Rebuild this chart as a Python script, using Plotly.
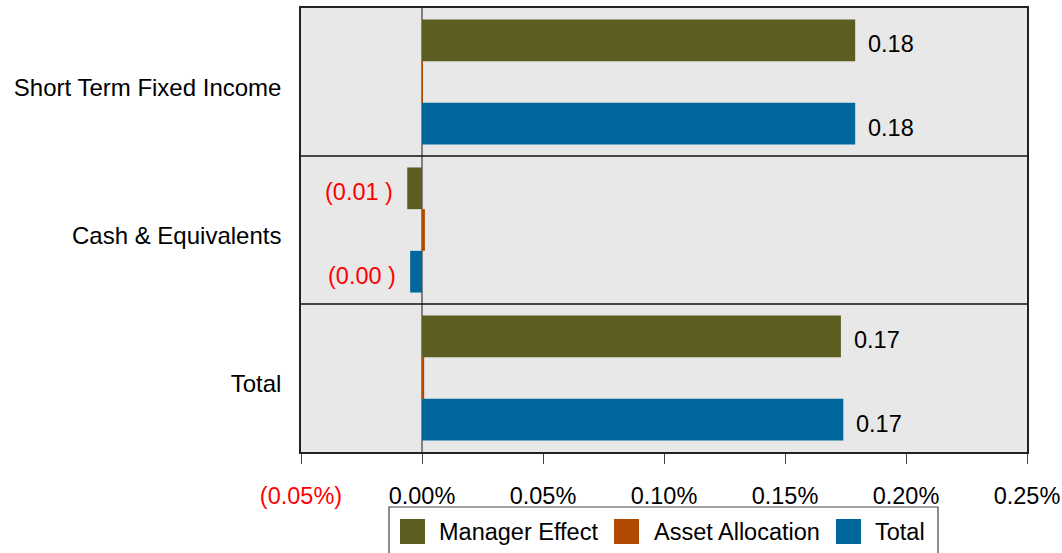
import plotly.graph_objects as go

# Attribution results (in percent)
categories = ["Short Term Fixed Income", "Cash & Equivalents", "Total"]
manager_effect = [0.179, -0.0061, 0.1731]
asset_allocation = [0.0004, 0.0012, 0.0009]
total_effect = [0.179, -0.0049, 0.1741]

series_names = ["Manager Effect", "Asset Allocation", "Total"]
series_colors = ["#5C5E21", "#B04A00", "#00679D"]

tick_vals = [-0.05, 0.0, 0.05, 0.10, 0.15, 0.20, 0.25]
tick_text = ['<span style="color:#FF0000">(0.05%)</span>', "0.00%", "0.05%",
             "0.10%", "0.15%", "0.20%", "0.25%"]

FONT = "Liberation Sans, Arial, sans-serif"
FS = 23.5

# plot-area geometry in pixels
W, H = 1062, 553
ML, MR, MT, MB = 301, 35, 8, 101
PW, PH = W - ML - MR, H - MT - MB


def px_x(px):
    return (px - ML) / PW


def px_y(py):
    return (H - MB - py) / PH


def fmt(v):
    return f"{v:.2f}" if v >= 0 else f"({abs(v):.2f} )"


fig = go.Figure()
for name, vals, color in zip(series_names,
                             [manager_effect, asset_allocation, total_effect],
                             series_colors):
    fig.add_trace(go.Bar(
        name=name, y=categories, x=vals, orientation="h",
        marker=dict(color=color, line=dict(width=0)),
        showlegend=False, cliponaxis=False,
    ))

# value labels beside the Manager Effect (upper) and Total (lower) bars
for vals, yshift in ((manager_effect, 38), (total_effect, -46)):
    for cat, v in zip(categories, vals):
        fig.add_annotation(
            x=v, y=cat, xref="x", yref="y", text=fmt(v), showarrow=False,
            xanchor="left" if v >= 0 else "right", yanchor="middle",
            xshift=11 if v >= 0 else -12, yshift=yshift,
            font=dict(family=FONT, size=FS,
                      color="#000000" if v >= 0 else "#FF0000"),
        )

# separators between category bands
for yb in (0.5, 1.5):
    fig.add_shape(type="line", xref="paper", x0=0, x1=1, yref="y", y0=yb, y1=yb,
                  line=dict(color="#111111", width=1.5))

# legend box with square swatches
fig.add_shape(type="rect", xref="paper", yref="paper",
              x0=px_x(389), x1=px_x(938), y0=px_y(507), y1=px_y(556),
              line=dict(color="#444444", width=1.2), fillcolor="white", layer="above")
swatch_x = [400, 614, 836]
label_x = [437, 652, 873]
for name, color, sx, lx in zip(series_names, series_colors, swatch_x, label_x):
    fig.add_shape(type="rect", xref="paper", yref="paper",
                  x0=px_x(sx), x1=px_x(sx + 25), y0=px_y(544), y1=px_y(519),
                  line=dict(width=0), fillcolor=color, layer="above")
    fig.add_annotation(x=px_x(lx), y=px_y(532), xref="paper", yref="paper",
                       text=name, showarrow=False, xanchor="left", yanchor="middle",
                       font=dict(family=FONT, size=FS, color="#000000"))

fig.update_layout(
    width=W, height=H,
    margin=dict(l=ML, r=MR, t=MT, b=MB, autoexpand=False),
    paper_bgcolor="white", plot_bgcolor="#E8E8E8",
    barmode="group", bargap=0.155, bargroupgap=0,
    font=dict(family=FONT, size=FS, color="#000000"),
    showlegend=False,
)
fig.update_xaxes(
    range=[-0.05, 0.25], tickvals=tick_vals, ticktext=tick_text,
    showgrid=False, zeroline=True, zerolinecolor="#808080", zerolinewidth=1.5,
    showline=True, linecolor="#222222", linewidth=1.5, mirror=True,
    ticks="outside", ticklen=10, tickcolor="#444444", automargin=False,
    ticklabelstandoff=12, tickfont=dict(family=FONT, size=FS),
)
fig.update_yaxes(
    autorange="reversed", showgrid=False, showline=True, linecolor="#222222",
    linewidth=1.5, mirror=True, ticks="", ticklabelstandoff=13, automargin=False,
    ticklabelshift=-6, tickfont=dict(family=FONT, size=24),
)

fig.write_html("out.html")
